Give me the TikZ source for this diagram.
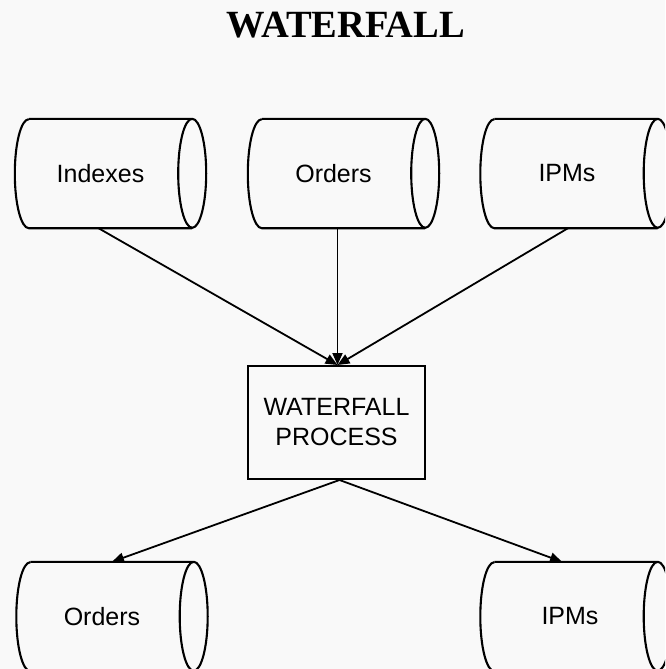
\documentclass[tikz,border=0pt]{standalone}
\usepackage{fontspec}
\setmainfont{Liberation Serif}
\setsansfont{Liberation Sans}
\usetikzlibrary{arrows.meta}
\definecolor{paper}{RGB}{249,249,249}
\begin{document}
\begin{tikzpicture}[x=1pt,y=-1pt,
  store/.style={minimum width=163pt,minimum height=109pt,inner sep=0pt},
  storelabel/.style={font=\sffamily\fontsize{25}{30}\selectfont,inner sep=0pt},
  proc/.style={draw,line width=2pt,minimum width=177pt,minimum height=113pt,
    align=center,font=\sffamily\fontsize{25}{30}\selectfont,inner sep=0pt},
  flow/.style={line width=1.8pt,-{Triangle[length=12pt,width=10pt]}},
  outline/.style={line width=2.1pt}]
\useasboundingbox (0,0) rectangle (665,669);
\clip (0,0) rectangle (665,669);
\fill[paper] (0,0) rectangle (665,669);

% title
\node[font=\bfseries\fontsize{38.5}{42}\selectfont] (title) at (346,25) {WATERFALL};

% data stores (bodies)
\node[store] (idx)  at (110.5,173.5) {};
\node[store] (ord)  at (343.5,173.5) {};
\node[store] (ipm)  at (576,173.5) {};
\node[store] (ord2) at (112,616.5) {};
\node[store] (ipm2) at (576,616.5) {};

% cylinder outlines
\foreach \n in {idx,ord,ipm,ord2,ipm2}{
  \draw[outline] (\n.north west) -- (\n.north east)
    arc[start angle=90,end angle=-270,x radius=14pt,y radius=54.5pt];
  \draw[outline] (\n.south east) -- (\n.south west)
    arc[start angle=270,end angle=90,x radius=14pt,y radius=54.5pt];
}

% store labels
\node[storelabel] (idxt)  at ([xshift=-10pt]idx.center)  {Indexes};
\node[storelabel] (ordt)  at ([xshift=-10pt]ord.center)  {Orders};
\node[storelabel] (ipmt)  at ([xshift=-9pt]ipm.center)   {IPMs};
\node[storelabel] (ord2t) at ([xshift=-10pt]ord2.center) {Orders};
\node[storelabel] (ipm2t) at ([xshift=-6pt]ipm2.center)  {IPMs};

% process
\node[proc] (proc) at (336.5,422.5) {WATERFALL\\PROCESS};

% flows into the process
\draw[flow] ([xshift=-12pt]idx.south) -- ([xshift=1pt]proc.north);
\draw[flow] ([xshift=-6pt]ord.south)  -- ([xshift=1pt]proc.north);
\draw[flow] ([xshift=-8pt]ipm.south)  -- ([xshift=1pt]proc.north);

% flows out of the process
\draw[flow] ([xshift=3pt]proc.south) -- (ord2.north);
\draw[flow] ([xshift=3pt]proc.south) -- ([xshift=-14pt]ipm2.north);
\end{tikzpicture}
\end{document}
